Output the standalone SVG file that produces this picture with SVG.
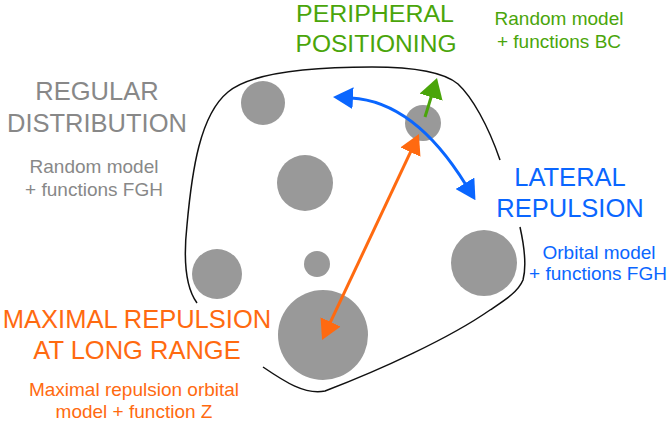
<svg xmlns="http://www.w3.org/2000/svg" width="668" height="421" viewBox="0 0 668 421">
<style>
text{font-family:"Liberation Sans",Arial,sans-serif;text-anchor:middle}
.t{font-size:25.5px}
.tp{font-size:23.5px}
.s{font-size:19px}
.gr{fill:#888888}.gn{fill:#4aa50a}.bl{fill:#0a66ff}.or{fill:#ff6a10}
.dot{fill:#999999}
.outline{fill:none;stroke:#111111;stroke-width:1.5}
</style>
<defs>
<marker id="ah-or" markerUnits="userSpaceOnUse" markerWidth="20" markerHeight="22" refX="2" refY="11" orient="auto-start-reverse"><path d="M0,0 L20,11 L0,22 z" fill="#ff6a10"/></marker>
<marker id="ah-bl" markerUnits="userSpaceOnUse" markerWidth="20" markerHeight="22" refX="2" refY="11" orient="auto-start-reverse"><path d="M0,0 L20,11 L0,22 z" fill="#0a66ff"/></marker>
<marker id="ah-gn" markerUnits="userSpaceOnUse" markerWidth="20" markerHeight="24" refX="2" refY="12" orient="auto"><path d="M0,0 L20,12 L0,24 z" fill="#4aa50a"/></marker>
</defs>
<g id="cell-outline">
<path class="outline" d="M197,303 C186,288 183,262 187,225 C192,170 200,115 228,92 C252,72 310,67 372,67 C415,67 445,73 458,84 C472,97 488,125 500,160"/>
<path class="outline" d="M520,227 C524,245 527,265 523,280 C518,292 505,300 490,310 C450,338 380,370 325,391 C305,395 285,382 263,367"/>
</g>
<g id="particles">
<circle class="dot" cx="263" cy="103" r="22"/>
<circle class="dot" cx="423" cy="123" r="18"/>
<circle class="dot" cx="305" cy="183" r="28"/>
<circle class="dot" cx="217" cy="274" r="25"/>
<circle class="dot" cx="317" cy="264" r="13"/>
<circle class="dot" cx="323" cy="335" r="45"/>
<circle class="dot" cx="484" cy="263" r="33"/>
</g>
<g id="connectors">
<path d="M329.7,323.7 L411.3,150.3" fill="none" stroke="#ff6a10" stroke-width="3" marker-start="url(#ah-or)" marker-end="url(#ah-or)"/>
<path d="M425,117 L431.7,95.2" fill="none" stroke="#4aa50a" stroke-width="3" marker-end="url(#ah-gn)"/>
<path d="M351,98 Q414.5,101.5 466,185" fill="none" stroke="#0a66ff" stroke-width="3" marker-start="url(#ah-bl)" marker-end="url(#ah-bl)"/>
</g>
<g id="label-peripheral">
<text class="tp gn" x="375" y="21.5" textLength="158" lengthAdjust="spacingAndGlyphs">PERIPHERAL</text>
<text class="tp gn" x="376" y="51.5" textLength="161" lengthAdjust="spacingAndGlyphs">POSITIONING</text>
<text class="s gn" x="559" y="25">Random model</text>
<text class="s gn" x="559" y="48">+ functions BC</text>
</g>
<g id="label-regular">
<text class="t gr" x="97" y="100">REGULAR</text>
<text class="t gr" x="97" y="132">DISTRIBUTION</text>
<text class="s gr" x="94" y="173">Random model</text>
<text class="s gr" x="94" y="196">+ functions FGH</text>
</g>
<g id="label-lateral">
<text class="t bl" x="570" y="186">LATERAL</text>
<text class="t bl" x="570" y="217">REPULSION</text>
<text class="s bl" x="599" y="259">Orbital model</text>
<text class="s bl" x="598" y="280">+ functions FGH</text>
</g>
<g id="label-maximal">
<text class="t or" x="137" y="328">MAXIMAL REPULSION</text>
<text class="t or" x="137" y="359">AT LONG RANGE</text>
<text class="s or" x="134" y="396">Maximal repulsion orbital</text>
<text class="s or" x="134" y="418">model + function Z</text>
</g>
</svg>
